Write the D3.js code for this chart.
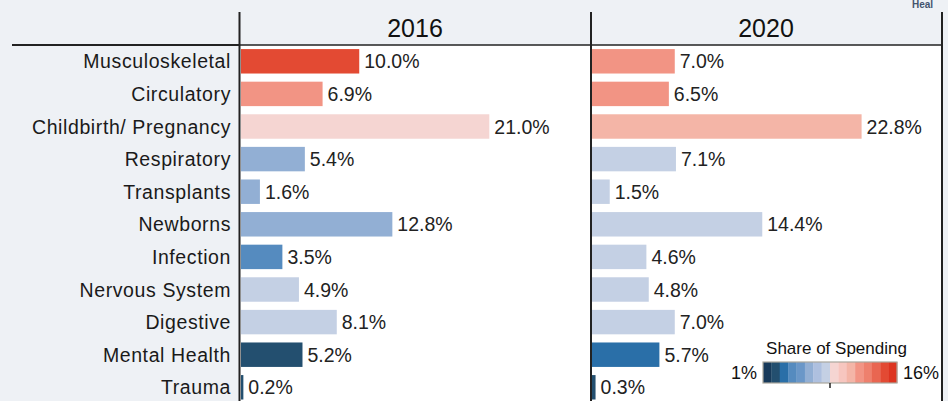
<!DOCTYPE html>
<html>
<head>
<meta charset="utf-8">
<script src="https://cdn.jsdelivr.net/npm/d3@7"></script>
<style>
  html, body { margin: 0; padding: 0; background: #eef1f5; }
  svg { display: block; font-family: "Liberation Sans", Arial, sans-serif; }
</style>
</head>
<body>
<svg id="chart" width="948" height="401"></svg>
<script>
// ---- data ----
const categories = ["Musculoskeletal", "Circulatory", "Childbirth/ Pregnancy", "Respiratory", "Transplants",
  "Newborns", "Infection", "Nervous System", "Digestive", "Mental Health", "Trauma"];
const years = ["2016", "2020"];
const share2016 = [10.0, 6.9, 21.0, 5.4, 1.6, 12.8, 3.5, 4.9, 8.1, 5.2, 0.2];
const share2020 = [7.0, 6.5, 22.8, 7.1, 1.5, 14.4, 4.6, 4.8, 7.0, 5.7, 0.3];
// share of spending (colour), estimated from the colour bins
const spend2016 = [14.5, 11.8, 9.0, 6.1, 6.3, 5.9, 4.3, 8.0, 7.9, 2.4, 2.1];
const spend2020 = [11.9, 11.5, 10.6, 7.8, 7.9, 8.1, 7.7, 8.0, 7.9, 3.3, 2.0];
const palette = ["#173a5a", "#234f6f", "#2a6fa8", "#558bbf", "#6a97c8", "#92afd4", "#aec0df", "#c4d0e4",
  "#f5d5d2", "#f7c6bf", "#f4b5a7", "#f29484", "#ee806d", "#e96651", "#e34a33", "#dd3420"];
const legendDomain = [1, 16];
const legendLabels = ["1%", "16%"];
const legendTitle = "Share of Spending";

// ---- layout ----
const svg = d3.select("#chart");
const W = 948, H = 401;
const headerY = 45;
const panelX = [241, 592];
const panelW = 350;
const lineColor = "#222";

const y = d3.scaleBand().domain(categories)
  .range([headerY, headerY + categories.length * 32.6])
  .paddingInner(0.25).paddingOuter(0.125);
const x = d3.scaleLinear().domain([0, 29.6]).range([0, panelW]);
const color = d3.scaleQuantize().domain(legendDomain).range(palette);

// white plot area
svg.append("rect").attr("x", 240).attr("y", headerY).attr("width", 942 - 240).attr("height", H - headerY)
  .attr("fill", "#ffffff");

// small text at top right (cut off in the source)
svg.append("text").attr("x", 912).attr("y", 8).attr("font-size", 10).attr("font-weight", "bold")
  .attr("fill", "#44546e").text("Heal");

// header titles
years.forEach((yr, i) => {
  svg.append("text").attr("x", panelX[i] + panelW / 2 - 1).attr("y", 37)
    .attr("text-anchor", "middle").attr("font-size", 25).attr("fill", "#111").text(yr);
});

// row labels
svg.append("g").selectAll("text").data(categories).join("text")
  .attr("x", 231).attr("y", d => y(d) + y.bandwidth() / 2)
  .attr("dy", "0.36em").attr("text-anchor", "end")
  .attr("font-size", 19.5).attr("letter-spacing", 0.6).attr("fill", "#1a1a1a")
  .text(d => d);

// bars
const seriesShare = [share2016, share2020];
const seriesSpend = [spend2016, spend2020];
years.forEach((yr, i) => {
  const rows = categories.map((c, j) => ({ c, v: seriesShare[i][j], s: seriesSpend[i][j] }));
  const g = svg.append("g").attr("transform", `translate(${panelX[i]},0)`);
  g.selectAll("rect").data(rows).join("rect")
    .attr("x", x(0)).attr("y", d => y(d.c))
    .attr("width", d => x(d.v)).attr("height", y.bandwidth())
    .attr("fill", d => color(d.s));
  g.selectAll("text").data(rows).join("text")
    .attr("x", d => x(d.v) + 5).attr("y", d => y(d.c) + y.bandwidth() / 2)
    .attr("dy", "0.36em").attr("font-size", 19.5).attr("fill", "#222")
    .text(d => d3.format(".1f")(d.v) + "%");
});

// grid lines
svg.append("line").attr("x1", 12).attr("x2", 240).attr("y1", headerY).attr("y2", headerY)
  .attr("stroke", lineColor).attr("stroke-width", 2);
svg.append("line").attr("x1", 240).attr("x2", 943).attr("y1", headerY).attr("y2", headerY)
  .attr("stroke", lineColor).attr("stroke-width", 1.5);
[239.5, 591, 942].forEach(lx => {
  svg.append("line").attr("x1", lx).attr("x2", lx).attr("y1", 12).attr("y2", H)
    .attr("stroke", lineColor).attr("stroke-width", 2);
});

// legend
const lg = svg.append("g");
const lx0 = 763, lx1 = 897, ly0 = 362, lh = 21;
const sw = (lx1 - lx0) / palette.length;
lg.append("text").attr("x", 836.5).attr("y", 354).attr("text-anchor", "middle")
  .attr("font-size", 17).attr("fill", "#111").text(legendTitle);
lg.selectAll("rect.sw").data(palette).join("rect").attr("class", "sw")
  .attr("x", (d, i) => lx0 + i * sw).attr("y", ly0).attr("width", sw + 0.3).attr("height", lh)
  .attr("fill", d => d);
lg.append("rect").attr("x", lx0).attr("y", ly0).attr("width", lx1 - lx0).attr("height", lh)
  .attr("fill", "none").attr("stroke", "#aaa79d").attr("stroke-width", 1.2);
const legendScale = d3.scaleLinear().domain(legendDomain).range([lx0, lx1]);
const mid = (legendDomain[0] + legendDomain[1]) / 2;
lg.append("line").attr("x1", legendScale(mid)).attr("x2", legendScale(mid))
  .attr("y1", ly0 + lh).attr("y2", ly0 + lh + 5).attr("stroke", "#222").attr("stroke-width", 1.5);
lg.append("text").attr("x", lx0 - 6).attr("y", ly0 + lh / 2).attr("dy", "0.36em")
  .attr("text-anchor", "end").attr("font-size", 18).attr("fill", "#111").text(legendLabels[0]);
lg.append("text").attr("x", lx1 + 6).attr("y", ly0 + lh / 2).attr("dy", "0.36em")
  .attr("text-anchor", "start").attr("font-size", 18).attr("fill", "#111").text(legendLabels[1]);
</script>
</body>
</html>
